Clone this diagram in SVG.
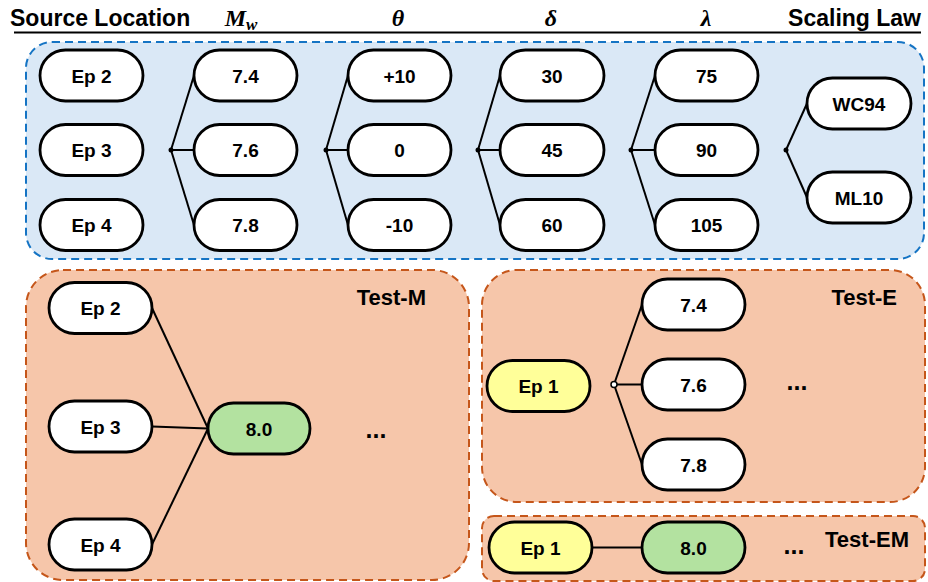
<svg xmlns="http://www.w3.org/2000/svg" width="928" height="582" viewBox="0 0 928 582">
<style>
.pill{fill:#ffffff;stroke:#000;stroke-width:2.8}
.yel{fill:#ffff99}
.grn{fill:#b3e2a0}
.lbl{font-family:"Liberation Sans",Arial,sans-serif;font-weight:bold;font-size:19px;text-anchor:middle;fill:#000}
.hdr{font-family:"Liberation Sans",Arial,sans-serif;font-weight:bold;font-size:22px;fill:#000}
.hdr2{font-family:"Liberation Sans",Arial,sans-serif;font-weight:bold;font-size:23px;fill:#000}
.math{font-family:"Liberation Serif","Times New Roman",serif;font-weight:bold;font-style:italic;font-size:24px;text-anchor:middle;fill:#000}
.conn line{stroke:#000;stroke-width:2}
.dot{fill:#000}
.blue{fill:#dae8f6;stroke:#1574c4;stroke-width:2;stroke-dasharray:8 5}
.org{fill:#f6c6aa;stroke:#c5561a;stroke-width:2;stroke-dasharray:8 5}
.dots{font-family:"Liberation Sans",Arial,sans-serif;font-weight:bold;font-size:25px;fill:#000;text-anchor:middle}
</style>
<rect width="928" height="582" fill="#ffffff"/>
<!-- headers -->
<g id="header">
<text class="hdr2" x="10" y="26">Source Location</text>
<text class="math" x="241" y="26">M<tspan font-size="17" dy="4">w</tspan></text>
<text class="math" x="398" y="26">θ</text>
<text class="math" x="551" y="26">δ</text>
<text class="math" x="706" y="26">λ</text>
<text class="hdr2" x="921" y="26" text-anchor="end">Scaling Law</text>
<line x1="14" y1="32.5" x2="921" y2="32.5" stroke="#000" stroke-width="2"/>
</g>
<!-- containers -->
<g id="group-train"><rect class="blue" x="26" y="42" width="898" height="217" rx="26"/></g>
<g id="group-test-m"><rect class="org" x="26" y="270" width="443" height="310" rx="37"/>
<text class="hdr" x="426" y="305" text-anchor="end">Test-M</text>
<text class="dots" x="376" y="438">...</text></g>
<g id="group-test-e"><rect class="org" x="482" y="270" width="443" height="232" rx="35"/>
<text class="hdr" x="897" y="305" text-anchor="end">Test-E</text>
<text class="dots" x="797" y="390">...</text></g>
<g id="group-test-em"><rect class="org" x="482" y="516" width="443" height="65" rx="12"/>
<text class="hdr" x="909" y="547" text-anchor="end">Test-EM</text>
<text class="dots" x="794" y="554">...</text></g>
<!-- connectors -->
<g id="connectors" class="conn">
<line x1="171" y1="150" x2="194" y2="75.5"/><line x1="171" y1="150" x2="194" y2="150"/><line x1="171" y1="150" x2="194" y2="225"/>
<line x1="326" y1="150" x2="348" y2="75.5"/><line x1="326" y1="150" x2="348" y2="150"/><line x1="326" y1="150" x2="348" y2="225"/>
<line x1="478" y1="150" x2="500" y2="75.5"/><line x1="478" y1="150" x2="500" y2="150"/><line x1="478" y1="150" x2="500" y2="225"/>
<line x1="631" y1="150" x2="655" y2="75.5"/><line x1="631" y1="150" x2="655" y2="150"/><line x1="631" y1="150" x2="655" y2="225"/>
<line x1="786" y1="150" x2="807" y2="103.5"/><line x1="786" y1="150" x2="807" y2="197.5"/>
<line x1="152" y1="308" x2="208" y2="428.5"/><line x1="152" y1="426.5" x2="208" y2="428.5"/><line x1="152" y1="544.5" x2="208" y2="428.5"/>
<line x1="614" y1="384.5" x2="642" y2="304.5"/><line x1="614" y1="384.5" x2="642" y2="384.5"/><line x1="614" y1="384.5" x2="642" y2="464.5"/>
<line x1="592" y1="547.5" x2="642" y2="547.5"/>
<circle class="dot" cx="171" cy="150" r="2.5"/><circle class="dot" cx="326" cy="150" r="2.5"/><circle class="dot" cx="478" cy="150" r="2.5"/><circle class="dot" cx="631" cy="150" r="2.5"/><circle class="dot" cx="786" cy="150" r="2.5"/>
<circle cx="614" cy="384.5" r="3" fill="#fff" stroke="#000" stroke-width="1.5"/>
</g>
<!-- top nodes -->
<g id="src-ep2"><rect class="pill" x="40" y="50" width="103" height="51" rx="25.5"/><text class="lbl" x="91.5" y="82.5">Ep 2</text></g>
<g id="src-ep3"><rect class="pill" x="40" y="124.5" width="103" height="51" rx="25.5"/><text class="lbl" x="91.5" y="157">Ep 3</text></g>
<g id="src-ep4"><rect class="pill" x="40" y="199.5" width="103" height="51" rx="25.5"/><text class="lbl" x="91.5" y="232">Ep 4</text></g>
<g id="mw-74"><rect class="pill" x="194" y="50" width="103" height="51" rx="25.5"/><text class="lbl" x="245.5" y="82.5">7.4</text></g>
<g id="mw-76"><rect class="pill" x="194" y="124.5" width="103" height="51" rx="25.5"/><text class="lbl" x="245.5" y="157">7.6</text></g>
<g id="mw-78"><rect class="pill" x="194" y="199.5" width="103" height="51" rx="25.5"/><text class="lbl" x="245.5" y="232">7.8</text></g>
<g id="theta-p10"><rect class="pill" x="348" y="50" width="103" height="51" rx="25.5"/><text class="lbl" x="399.5" y="82.5">+10</text></g>
<g id="theta-0"><rect class="pill" x="348" y="124.5" width="103" height="51" rx="25.5"/><text class="lbl" x="399.5" y="157">0</text></g>
<g id="theta-m10"><rect class="pill" x="348" y="199.5" width="103" height="51" rx="25.5"/><text class="lbl" x="399.5" y="232">-10</text></g>
<g id="delta-30"><rect class="pill" x="500" y="50" width="104" height="51" rx="25.5"/><text class="lbl" x="552" y="82.5">30</text></g>
<g id="delta-45"><rect class="pill" x="500" y="124.5" width="104" height="51" rx="25.5"/><text class="lbl" x="552" y="157">45</text></g>
<g id="delta-60"><rect class="pill" x="500" y="199.5" width="104" height="51" rx="25.5"/><text class="lbl" x="552" y="232">60</text></g>
<g id="lambda-75"><rect class="pill" x="655" y="50" width="103" height="51" rx="25.5"/><text class="lbl" x="706.5" y="82.5">75</text></g>
<g id="lambda-90"><rect class="pill" x="655" y="124.5" width="103" height="51" rx="25.5"/><text class="lbl" x="706.5" y="157">90</text></g>
<g id="lambda-105"><rect class="pill" x="655" y="199.5" width="103" height="51" rx="25.5"/><text class="lbl" x="706.5" y="232">105</text></g>
<g id="law-wc94"><rect class="pill" x="807" y="78" width="104" height="51" rx="25.5"/><text class="lbl" x="859" y="110.5">WC94</text></g>
<g id="law-ml10"><rect class="pill" x="807" y="172" width="104" height="51" rx="25.5"/><text class="lbl" x="859" y="204.5">ML10</text></g>
<!-- Test-M nodes -->
<g id="tm-ep2"><rect class="pill" x="49" y="282.5" width="103" height="51" rx="25.5"/><text class="lbl" x="100.5" y="315">Ep 2</text></g>
<g id="tm-ep3"><rect class="pill" x="49" y="401" width="103" height="51" rx="25.5"/><text class="lbl" x="100.5" y="433.5">Ep 3</text></g>
<g id="tm-ep4"><rect class="pill" x="49" y="519" width="103" height="51" rx="25.5"/><text class="lbl" x="100.5" y="551.5">Ep 4</text></g>
<g id="tm-80"><rect class="pill grn" x="208" y="403" width="102" height="51" rx="25.5"/><text class="lbl" x="259" y="435.5">8.0</text></g>
<!-- Test-E nodes -->
<g id="te-ep1"><rect class="pill yel" x="487" y="360.5" width="103" height="51" rx="25.5"/><text class="lbl" x="538.5" y="393">Ep 1</text></g>
<g id="te-74"><rect class="pill" x="642" y="279" width="103" height="51" rx="25.5"/><text class="lbl" x="693.5" y="311.5">7.4</text></g>
<g id="te-76"><rect class="pill" x="642" y="359" width="103" height="51" rx="25.5"/><text class="lbl" x="693.5" y="391.5">7.6</text></g>
<g id="te-78"><rect class="pill" x="642" y="439" width="103" height="51" rx="25.5"/><text class="lbl" x="693.5" y="471.5">7.8</text></g>
<!-- Test-EM nodes -->
<g id="tem-ep1"><rect class="pill yel" x="489" y="522" width="103" height="51" rx="25.5"/><text class="lbl" x="540.5" y="554.5">Ep 1</text></g>
<g id="tem-80"><rect class="pill grn" x="642" y="522" width="103" height="51" rx="25.5"/><text class="lbl" x="693.5" y="554.5">8.0</text></g>
</svg>
